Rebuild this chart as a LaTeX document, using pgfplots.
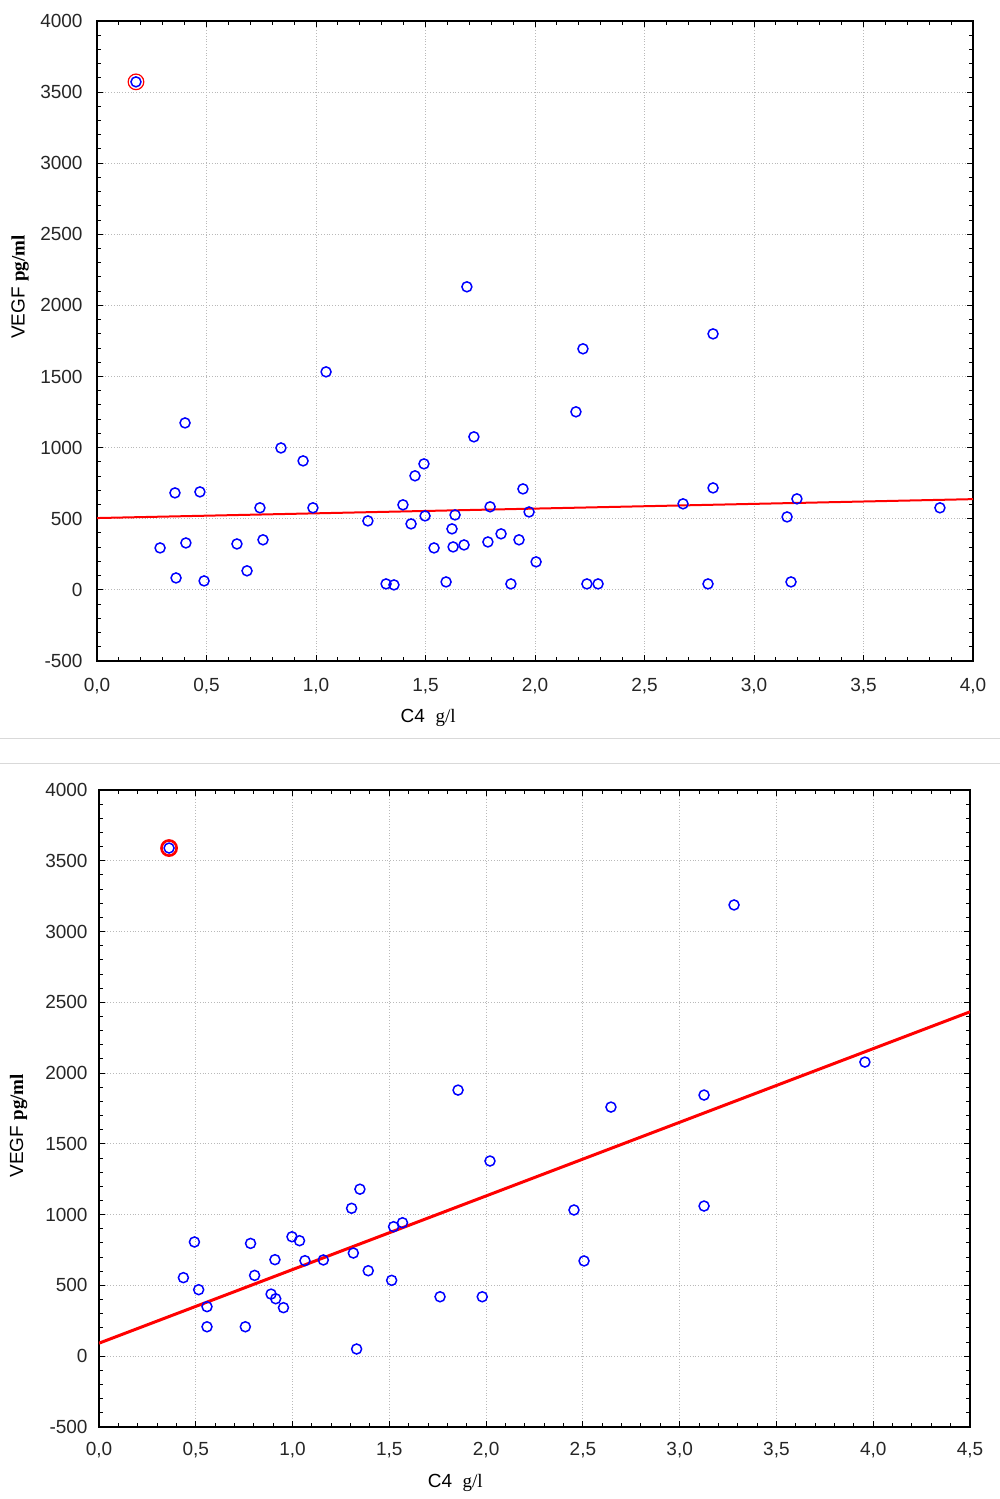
\documentclass[border=0pt]{standalone}
\usepackage{pgfplots}
\pgfplotsset{compat=1.18}
\usepackage{fontspec}
\setmainfont{Liberation Sans}
\newfontfamily\serifu{Liberation Serif}
\begin{document}
\begin{tikzpicture}
\useasboundingbox (0pt,0pt) rectangle (500pt,749.5pt);
\draw[gray!30, line width=0.6pt] (0pt,380.35pt) -- (500pt,380.35pt);
\draw[gray!30, line width=0.6pt] (0pt,367.85pt) -- (500pt,367.85pt);
\pgfplotsset{
  panel/.style={
    scale only axis, xmin=0, ymin=-500, ymax=4000,
    ytick={-500,0,500,1000,1500,2000,2500,3000,3500,4000},
    minor x tick num=4, minor y tick num=4,
    grid=major,
    major grid style={densely dotted, gray!55, line width=0.4pt},
    axis line style={black, line width=0.8pt},
    tick style={black, line width=0.5pt},
    major tick length=3pt, minor tick length=2.2pt,
    tick align=inside,
    font=\fontsize{9.5}{11}\selectfont,
    ticklabel style={font=\fontsize{9.5}{11}\selectfont, text=black!85},
    /pgf/number format/assume math mode=true,
    /pgf/number format/1000 sep={},
    xticklabel style={/pgf/number format/fixed, /pgf/number format/fixed zerofill, /pgf/number format/precision=1, /pgf/number format/use comma},
    ylabel={VEGF {\serifu\bfseries pg/ml}},
    xlabel={C4\ \ {\serifu g/l}},
  }
}
% ---------- top panel ----------
\begin{axis}[panel,
  at={(48.5pt,419pt)}, anchor=south west,
  width=438pt, height=320pt, xmax=4,
  xtick={0,0.5,...,4},
  xticklabel style={yshift=-5pt},
  yticklabel style={xshift=-3.7pt},
  xlabel style={at={(axis description cs:0.378,0)}, anchor=center, yshift=-28.5pt},
  ylabel style={at={(axis description cs:-0.0879,0.584)}, anchor=center},
]
\addplot[red, line width=1pt] coordinates {(0,505) (4,638)};
\addplot[only marks, mark=o, mark size=2.5pt, blue, mark options={line width=0.75pt}] coordinates {
(0.178,3572) (0.288,295) (0.356,682) (0.361,84) (0.402,1174) (0.406,330)
(0.470,689) (0.489,63) (0.639,323) (0.685,134) (0.744,577) (0.758,352)
(0.840,998) (0.941,907) (0.986,577) (1.046,1533) (1.237,485) (1.320,42)
(1.356,35) (1.397,598) (1.434,464) (1.452,802) (1.493,886) (1.498,520)
(1.539,295) (1.594,56) (1.621,429) (1.635,527) (1.626,302) (1.676,316)
(1.689,2131) (1.721,1076) (1.785,337) (1.795,584) (1.845,394) (1.890,42)
(1.927,352) (1.945,710) (1.973,548) (2.005,197) (2.187,1252) (2.219,1695)
(2.237,42) (2.288,42) (2.676,605) (2.790,42) (2.813,1800) (2.813,717)
(3.151,513) (3.169,56) (3.196,640) (3.849,577)
};
\addplot[only marks, mark=o, mark size=3.9pt, red, mark options={line width=0.6pt}] coordinates {(0.178,3572)};
\end{axis}
% ---------- bottom panel ----------
\begin{axis}[panel,
  at={(49.5pt,36pt)}, anchor=south west,
  width=435.5pt, height=318.5pt, xmax=4.5,
  xtick={0,0.5,...,4.5},
  xticklabel style={yshift=-4.3pt},
  yticklabel style={xshift=-2.2pt},
  xlabel style={at={(axis description cs:0.409,0)}, anchor=center, yshift=-28pt},
  ylabel style={at={(axis description cs:-0.0924,0.473)}, anchor=center},
]
\addplot[red, line width=1.5pt] coordinates {(0,92) (4.5,2433)};
\addplot[only marks, mark=o, mark size=2.5pt, blue, mark options={line width=0.75pt}] coordinates {
(0.362,3590) (3.281,3188) (3.957,2078) (1.855,1880) (2.645,1760) (3.126,1845)
(2.020,1379) (2.454,1033) (3.126,1061) (2.506,673)
(1.348,1180) (1.305,1045) (1.522,915) (1.568,943) (0.493,807) (0.783,797)
(0.997,844) (1.036,816) (0.909,682) (1.064,675) (1.159,680) (1.314,729)
(1.391,604) (0.804,571) (0.436,555) (1.512,536) (0.515,470) (0.889,439)
(0.913,406) (0.953,343) (0.558,350) (1.762,420) (1.980,420) (0.558,208)
(0.756,208) (1.331,51)
};
\addplot[only marks, mark=o, mark size=3.8pt, red, mark options={line width=1.3pt}] coordinates {(0.362,3590)};
\end{axis}
\end{tikzpicture}
\end{document}
